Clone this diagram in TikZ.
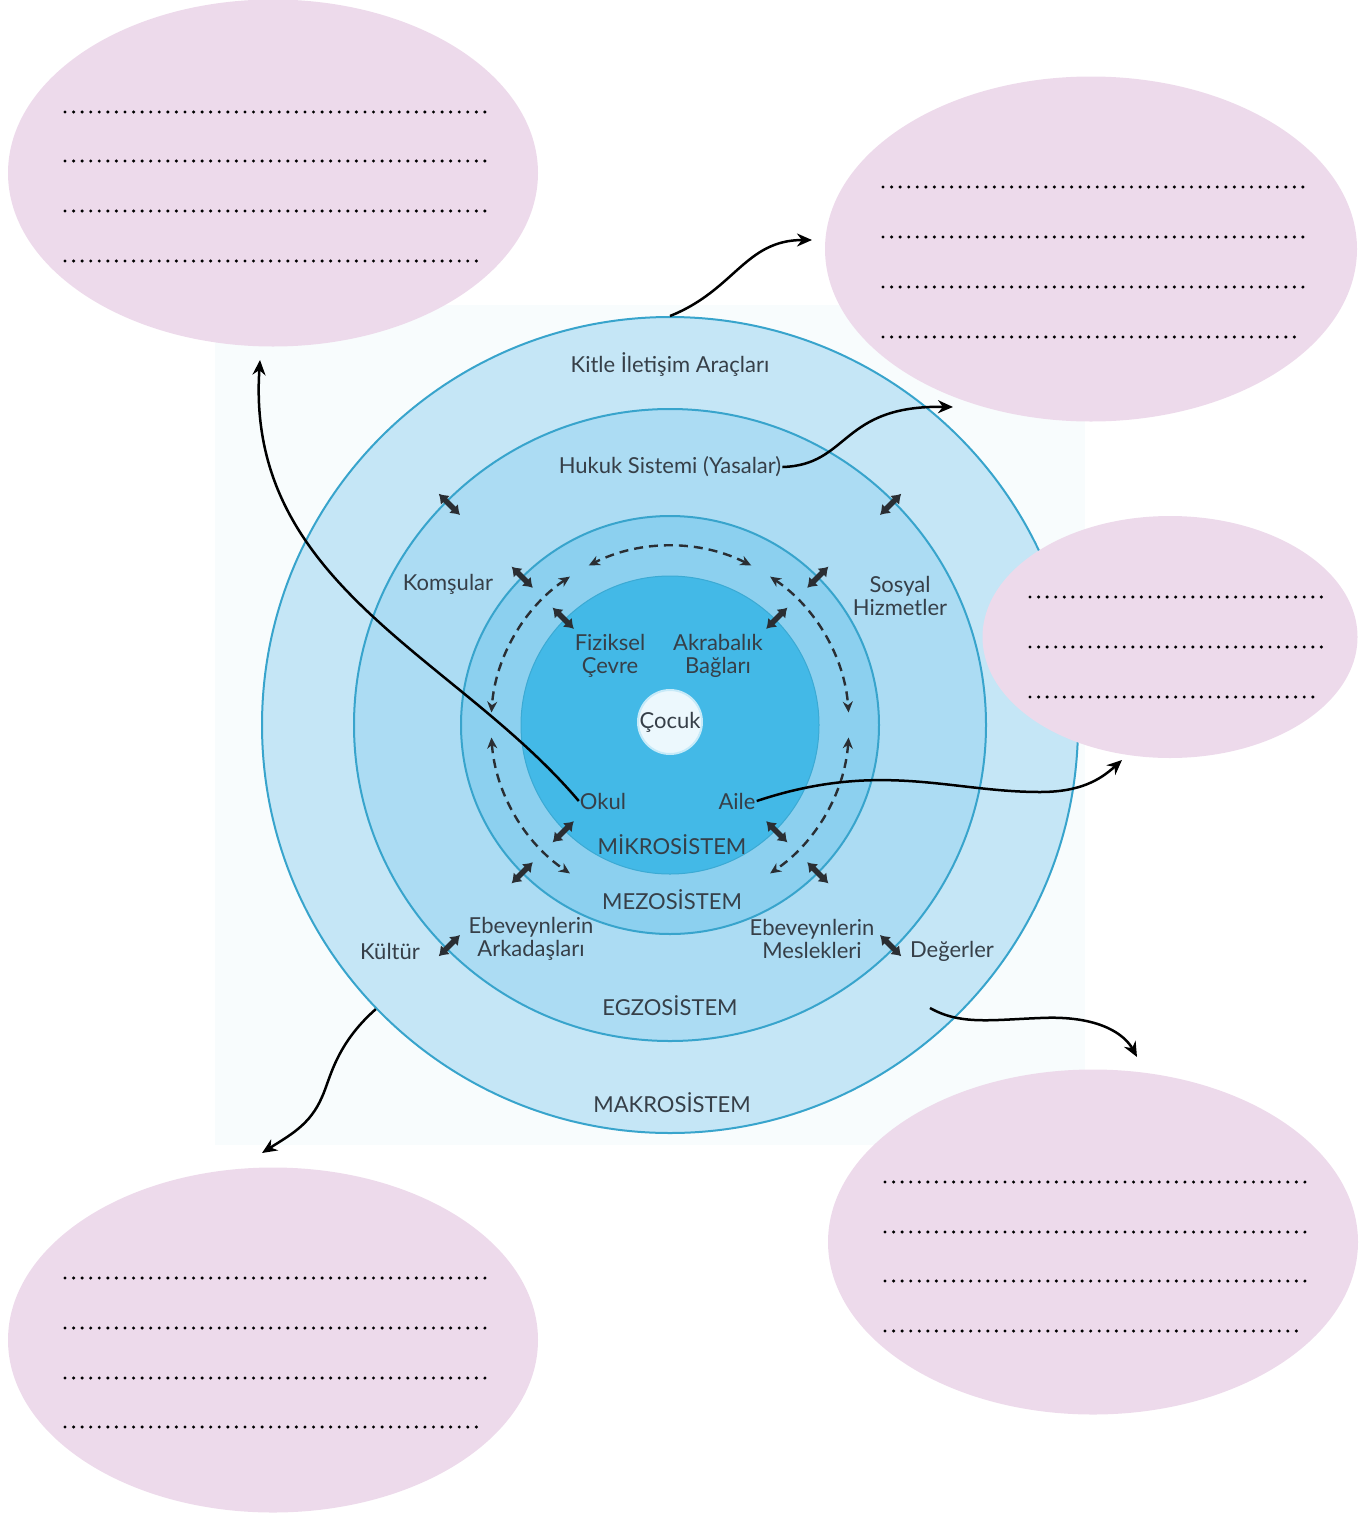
\documentclass[tikz,border=0pt]{standalone}
\usepackage{fontspec}
\setmainfont{Lato}
\usetikzlibrary{shapes.geometric,arrows.meta,calc}
\definecolor{pinkfill}{HTML}{EDDAEB}
\definecolor{bgcol}{HTML}{F8FCFD}
\definecolor{makrocol}{HTML}{C5E6F6}
\definecolor{egzocol}{HTML}{ACDCF3}
\definecolor{mezocol}{HTML}{8CD0EF}
\definecolor{mikrocol}{HTML}{43B9E7}
\definecolor{ringline}{HTML}{38A4CC}
\definecolor{labelcol}{HTML}{363F48}
\definecolor{arrowcol}{HTML}{2A2E33}
\begin{document}
\begin{tikzpicture}[x=1pt,y=1pt,
  pinkell/.style={ellipse, fill=pinkfill, draw=none, inner sep=0pt},
  dotline/.style={line width=3.4pt, line cap=round, dash pattern=on 0pt off 8.57pt, black},
  ring/.style={circle, draw=ringline, line width=2pt, inner sep=0pt},
  lbl/.style={text=labelcol, font=\fontsize{22}{23}\selectfont, align=center, inner sep=1pt},
  dbl/.style={arrowcol, line width=5.5pt, {Latex[length=9pt,width=13pt]}-{Latex[length=9pt,width=13pt]}},
  dasharc/.style={arrowcol, line width=2.4pt, dash pattern=on 9pt off 6pt, {Stealth[length=11pt,width=10pt]}-{Stealth[length=11pt,width=10pt]}},
  conn/.style={black, line width=2.5pt, -{Stealth[length=15pt,width=13pt]}}
]
\useasboundingbox (0,0) rectangle (1370,-1515);
\fill[bgcol] (215,-305) rectangle (1085,-1145);
\coordinate (c) at (670,-725);
% rings
\node[ring, fill=makrocol, minimum size=816] (makro) at (c) {};
\node[ring, fill=egzocol, minimum size=632] (egzo) at (c) {};
\node[ring, fill=mezocol, minimum size=418] (mezo) at (c) {};
\node[circle, fill=mikrocol, draw=ringline!70!mikrocol, line width=1pt, inner sep=0pt, minimum size=298] (mikro) at (c) {};
\node[circle, fill=white!90!mikrocol, draw=white!70!mikrocol, line width=2pt, inner sep=0pt, minimum size=64] (cocukc) at (670,-722) {};
% double arrows between rings
\foreach \a in {45,135,225,315} {
  \foreach \r in {151,209,312} {
    \pgfmathsetmacro{\ri}{\r-15}
    \pgfmathsetmacro{\ro}{\r+15}
    \draw[dbl] ($(c)+(\a:\ri)$) -- ($(c)+(\a:\ro)$);
  }
}
% dashed arcs in mesosystem
\draw[dasharc] ($(c)+(63:179)$) arc[start angle=63, end angle=117, radius=179];
\draw[dasharc] ($(c)+(124:179)$) arc[start angle=124, end angle=176, radius=179];
\draw[dasharc] ($(c)+(184:179)$) arc[start angle=184, end angle=236, radius=179];
\draw[dasharc] ($(c)+(56:179)$) arc[start angle=56, end angle=4, radius=179];
\draw[dasharc] ($(c)+(-4:179)$) arc[start angle=-4, end angle=-56, radius=179];
% labels
\node[lbl] (kitle) at (670,-365) {Kitle İletişim Araçları};
\node[lbl] (hukuk) at (670,-467) {Hukuk Sistemi (Yasalar)};
\node[lbl] (komsu) at (448,-584) {Komşular};
\node[lbl] (sosyal) at (900,-596) {Sosyal\\Hizmetler};
\node[lbl] (fiziksel) at (610,-656) {Fiziksel\\Çevre};
\node[lbl] (akraba) at (718,-656) {Akrabalık\\Bağları};
\node[lbl] (cocuk) at (670,-722) {Çocuk};
\node[lbl] (okul) at (603,-801) {Okul};
\node[lbl] (aile) at (737,-801) {Aile};
\node[lbl] (mikrol) at (672,-845) {MİKROSİSTEM};
\node[lbl] (mezol) at (672,-900) {MEZOSİSTEM};
\node[lbl] (ebark) at (531,-939) {Ebeveynlerin\\Arkadaşları};
\node[lbl] (ebmes) at (812,-939) {Ebeveynlerin\\Meslekleri};
\node[lbl] (kultur) at (390,-951) {Kültür};
\node[lbl] (degerler) at (952,-951) {Değerler};
\node[lbl] (egzol) at (670,-1006) {EGZOSİSTEM};
\node[lbl] (makrol) at (672,-1103) {MAKROSİSTEM};
% pink answer ellipses
\node[pinkell, minimum width=530, minimum height=347] (e1) at (273,-173) {};
\node[pinkell, minimum width=532, minimum height=345] (e2) at (1091,-249) {};
\node[pinkell, minimum width=375, minimum height=242] (e3) at (1170,-637) {};
\node[pinkell, minimum width=530, minimum height=345] (e4) at (273,-1340) {};
\node[pinkell, minimum width=530, minimum height=345] (e5) at (1093,-1242) {};
% dotted answer lines
\foreach \y in {112,161,211} \draw[dotline] (65,-\y) -- (485,-\y);
\draw[dotline] (65,-261) -- (479,-261);
\foreach \y in {187,237,287} \draw[dotline] (883,-\y) -- (1305,-\y);
\draw[dotline] (883,-337) -- (1297,-337);
\foreach \y in {597,647} \draw[dotline] (1030,-\y) -- (1324,-\y);
\draw[dotline] (1030,-697) -- (1320,-697);
\foreach \y in {1278,1328,1378} \draw[dotline] (65,-\y) -- (485,-\y);
\draw[dotline] (65,-1427) -- (479,-1427);
\foreach \y in {1182,1232,1281} \draw[dotline] (885,-\y) -- (1306,-\y);
\draw[dotline] (885,-1331) -- (1300,-1331);
% connector end points
\coordinate (t1) at (260,-360);
\coordinate (t2) at (812,-240);
\coordinate (t3) at (953,-407);
\coordinate (t4) at (1122,-760);
\coordinate (s5) at (930,-1008);
\coordinate (t5) at (1137,-1057);
\coordinate (t6) at (262,-1153);
% connectors
\draw[conn] (okul.west) .. controls (455,-655) and (245,-585) .. (t1);
\draw[conn] (makro.north) .. controls (735,-290) and (745,-240) .. (t2);
\draw[conn] (hukuk.east) .. controls (850,-465) and (840,-405) .. (t3);
\draw[conn] (aile.east) .. controls (880,-760) and (950,-792) .. (1040,-792) .. controls (1080,-792) and (1100,-780) .. (t4);
\draw[conn] (s5) .. controls (960,-1025) and (990,-1020) .. (1040,-1018) .. controls (1100,-1015) and (1125,-1035) .. (t5);
\draw[conn] (makro.224) .. controls (335,-1045) and (330,-1080) .. (322,-1097) .. controls (310,-1125) and (290,-1135) .. (t6);
\end{tikzpicture}
\end{document}
